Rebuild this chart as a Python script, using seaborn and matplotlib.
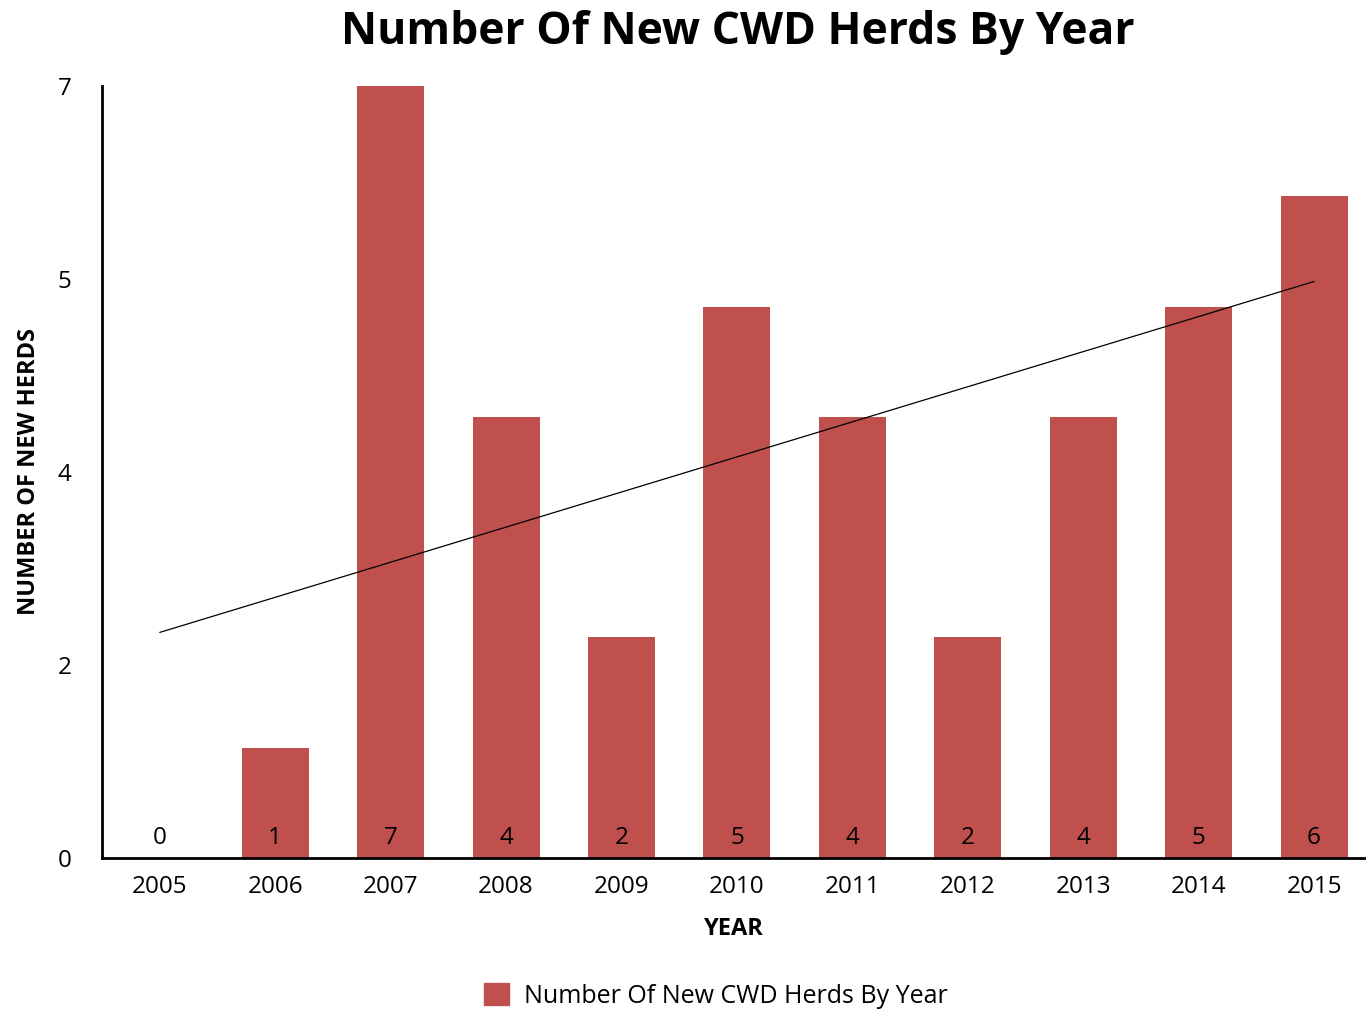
import numpy as np
import pandas as pd
import matplotlib.pyplot as plt
import seaborn as sns
from matplotlib.patches import Patch

years = ['2005', '2006', '2007', '2008', '2009', '2010', '2011', '2012', '2013', '2014', '2015']
new_herds = [0, 1, 7, 4, 2, 5, 4, 2, 4, 5, 6]
ytick_labels = ['0', '2', '4', '5', '7']

bar_color = '#C0504D'

sns.set_style('white')
plt.rcParams['font.family'] = ['Open Sans', 'DejaVu Sans']
plt.rcParams['text.color'] = 'black'
plt.rcParams['axes.labelcolor'] = 'black'
plt.rcParams['xtick.color'] = 'black'
plt.rcParams['ytick.color'] = 'black'

df = pd.DataFrame({'year': years, 'herds': new_herds})

fig = plt.figure(figsize=(13.66, 10.10), dpi=100)
ax = fig.add_axes([0.0747, 0.1505, 0.9253, 0.7644])

sns.barplot(data=df, x='year', y='herds', color=bar_color, saturation=1,
            width=0.58, linewidth=0, ax=ax)

# linear trend line
xs = np.arange(len(years))
slope, intercept = np.polyfit(xs, new_herds, 1)
ax.plot(xs, slope * xs + intercept, color='black', lw=0.9)

for i, v in enumerate(new_herds):
    ax.text(i, 0.18, str(v), ha='center', va='center', fontsize=17.5, color='black')

ax.set_xlim(-0.5, 10.45)
ax.set_ylim(0, 7)
ax.set_yticks(np.linspace(0, 7, 5))
ax.set_yticklabels(ytick_labels)
ax.tick_params(axis='both', length=0, labelsize=17.5, pad=12)
ax.tick_params(axis='y', pad=22)

for s in ['top', 'right']:
    ax.spines[s].set_visible(False)
for s in ['left', 'bottom']:
    ax.spines[s].set_color('black')
    ax.spines[s].set_linewidth(2)

ax.set_xlabel('YEAR', fontsize=17, fontweight='bold', labelpad=13)
ax.set_ylabel('NUMBER OF NEW HERDS', fontsize=17, fontweight='bold')
ax.yaxis.set_label_coords(-0.048, 0.5)

fig.suptitle('Number Of New CWD Herds By Year', x=0.54, y=0.99, fontsize=32,
             fontweight='bold', va='top')

fig.legend(handles=[Patch(color=bar_color, label='Number Of New CWD Herds By Year')],
           loc='center', bbox_to_anchor=(0.524, 0.014), frameon=False, fontsize=18,
           handlelength=1.0, handleheight=1.0, handletextpad=0.6)

fig.savefig('out.png', dpi=100)
